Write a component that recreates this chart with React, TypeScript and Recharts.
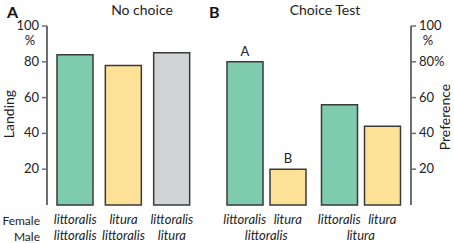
import { BarChart, Bar, XAxis, YAxis, LabelList, Cell } from 'recharts';

const GREEN = '#7fcbad';
const YELLOW = '#fde196';
const GRAY = '#d2d3d5';
const AXIS = '#6d6e71';
const EDGE = '#3a3a3a';
const FONT = 'Lato, "Open Sans", sans-serif';

// Panel A: no choice
const noChoiceFemale = ['littoralis', 'litura', 'littoralis'];
const noChoiceMale = ['littoralis', 'littoralis', 'litura'];
const noChoiceLanding = [84, 78, 85];
const noChoiceColors = [GREEN, YELLOW, GRAY];

// Panel B: choice test (grouped by male, one bar per female)
const choiceMale = ['littoralis', 'litura'];
const choiceFemale = ['littoralis', 'litura'];
const prefLittoralisFemale = [80, 56];
const prefLituraFemale = [20, 44];
const lettersLittoralis = ['A', ''];
const lettersLitura = ['B', ''];

const yTicks = [20, 40, 60, 80, 100];

const noChoiceData = noChoiceLanding.map((v, i) => ({
  name: `${noChoiceFemale[i]}|${noChoiceMale[i]}`,
  female: noChoiceFemale[i],
  male: noChoiceMale[i],
  landing: v,
}));

const choiceData = choiceMale.map((m, i) => ({
  male: m,
  fLittoralis: prefLittoralisFemale[i],
  fLitura: prefLituraFemale[i],
  sigA: lettersLittoralis[i],
  sigB: lettersLitura[i],
}));

const italic = { fontFamily: FONT, fontSize: 13, fontStyle: 'italic' as const, fill: '#222' };

function LeftXTick(props: any) {
  const { x, y, index } = props;
  return (
    <g>
      <text x={x} y={y + 11} textAnchor="middle" style={italic}>{noChoiceFemale[index]}</text>
      <text x={x} y={y + 27} textAnchor="middle" style={italic}>{noChoiceMale[index]}</text>
    </g>
  );
}

function RightXTick(props: any) {
  const { x, y, index } = props;
  return (
    <g>
      <text x={x - 21.5} y={y + 11} textAnchor="middle" style={italic}>{choiceFemale[0]}</text>
      <text x={x + 21.5} y={y + 11} textAnchor="middle" style={italic}>{choiceFemale[1]}</text>
      <text x={x} y={y + 27} textAnchor="middle" style={italic}>{choiceMale[index]}</text>
    </g>
  );
}

const tickStyle = { fontFamily: FONT, fontSize: 13, fill: '#222' };

function LeftYTick(props: any) {
  const { x, y, payload } = props;
  return (
    <g>
      <text x={x} y={y} dy={4} textAnchor="end" style={tickStyle}>{payload.value}</text>
      {payload.value === 100 && (
        <text x={x - 9} y={y} dy={19} textAnchor="middle" style={tickStyle}>%</text>
      )}
    </g>
  );
}

function RightYTick(props: any) {
  const { x, y, payload } = props;
  const label = payload.value === 80 ? '80%' : String(payload.value);
  return (
    <g>
      <text x={x} y={y} dy={4} textAnchor="start" style={tickStyle}>{label}</text>
      {payload.value === 100 && (
        <text x={x + 9} y={y} dy={19} textAnchor="middle" style={tickStyle}>%</text>
      )}
    </g>
  );
}

export default function App() {
  return (
    <div style={{ position: 'fixed', left: 0, top: 0, width: 454, height: 243, background: '#fff', fontFamily: FONT }}>
      <div style={{ position: 'absolute', left: 0, top: 0 }}>
        <BarChart width={454} height={243} data={noChoiceData}
          margin={{ top: 26, right: 255, left: 7, bottom: 2 }} barSize={36}>
          <XAxis dataKey="name" axisLine={false} tickLine={false} height={36}
            interval={0} padding={{ left: 4, right: 3 }} tick={<LeftXTick />} />
          <YAxis domain={[0, 100]} ticks={yTicks} width={40} tickSize={5} tickMargin={3}
            axisLine={{ stroke: AXIS, strokeWidth: 2 }} tickLine={{ stroke: AXIS, strokeWidth: 1.5 }}
            tick={<LeftYTick />} />
          <Bar dataKey="landing" stroke={EDGE} strokeWidth={1.5} isAnimationActive={false}>
            {noChoiceData.map((_, i) => (
              <Cell key={i} fill={noChoiceColors[i]} />
            ))}
          </Bar>
        </BarChart>
      </div>
      <div style={{ position: 'absolute', left: 0, top: 0 }}>
        <BarChart width={454} height={243} data={choiceData}
          margin={{ top: 26, right: 0, left: 219, bottom: 2 }} barSize={36} barGap={7}>
          <XAxis dataKey="male" axisLine={false} tickLine={false} height={36}
            interval={0} padding={{ left: 0, right: 3 }} tick={<RightXTick />} />
          <YAxis orientation="right" domain={[0, 100]} ticks={yTicks} width={43} tickSize={5} tickMargin={3}
            axisLine={{ stroke: AXIS, strokeWidth: 2 }} tickLine={{ stroke: AXIS, strokeWidth: 1.5 }}
            tick={<RightYTick />} />
          <Bar dataKey="fLittoralis" fill={GREEN} stroke={EDGE} strokeWidth={1.5} isAnimationActive={false}>
            <LabelList dataKey="sigA" position="top" offset={6} style={{ fontFamily: FONT, fontSize: 13, fill: '#222' }} />
          </Bar>
          <Bar dataKey="fLitura" fill={YELLOW} stroke={EDGE} strokeWidth={1.5} isAnimationActive={false}>
            <LabelList dataKey="sigB" position="top" offset={6} style={{ fontFamily: FONT, fontSize: 13, fill: '#222' }} />
          </Bar>
        </BarChart>
      </div>
      <svg width={454} height={243} style={{ position: 'absolute', left: 0, top: 0, pointerEvents: 'none' }}>
        <text x={7} y={18} style={{ fontFamily: FONT, fontSize: 16, fontWeight: 700, fill: '#111' }}>A</text>
        <text x={209} y={18} style={{ fontFamily: FONT, fontSize: 16, fontWeight: 700, fill: '#111' }}>B</text>
        <text x={142} y={15} textAnchor="middle" style={{ fontFamily: FONT, fontSize: 14, fill: '#222' }}>No choice</text>
        <text x={325} y={15} textAnchor="middle" style={{ fontFamily: FONT, fontSize: 14, fill: '#222' }}>Choice Test</text>
        <text x={40} y={225} textAnchor="end" style={{ fontFamily: FONT, fontSize: 12, fill: '#222' }}>Female</text>
        <text x={40} y={241} textAnchor="end" style={{ fontFamily: FONT, fontSize: 12, fill: '#222' }}>Male</text>
        <text transform="translate(14,114) rotate(-90)" textAnchor="middle" style={{ fontFamily: FONT, fontSize: 14, fill: '#222' }}>Landing</text>
        <text transform="translate(450,117) rotate(-90)" textAnchor="middle" style={{ fontFamily: FONT, fontSize: 14, fill: '#222' }}>Preference</text>
      </svg>
    </div>
  );
}
